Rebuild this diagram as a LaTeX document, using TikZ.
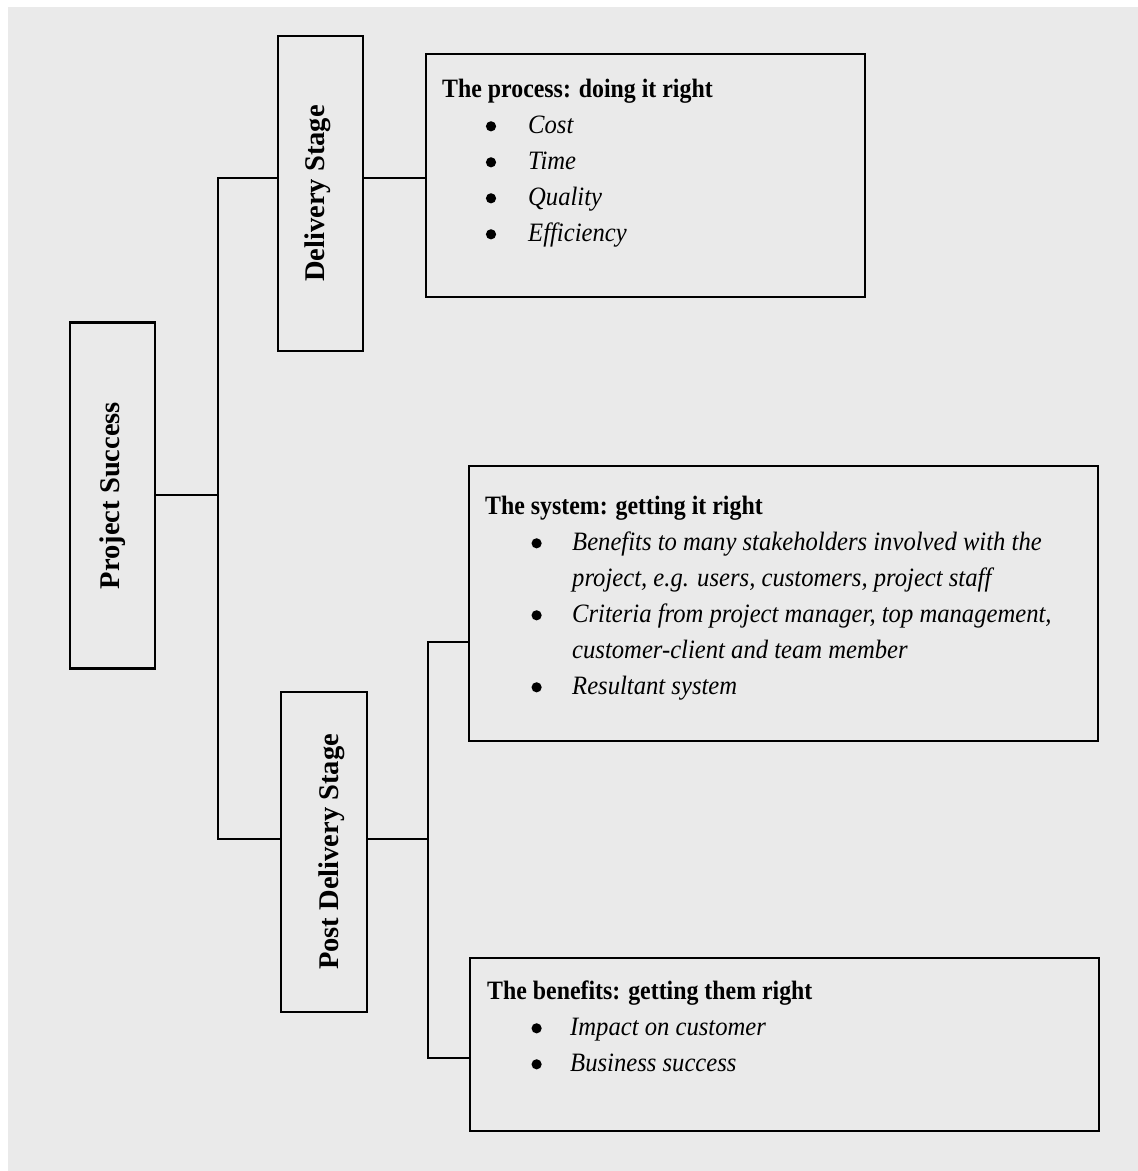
\documentclass[tikz,border=0pt]{standalone}
\usepackage{fontspec}
\usepackage{array}
\setmainfont{Liberation Serif}[BoldFeatures={FakeStretch=0.9},ItalicFeatures={FakeStretch=0.93}]
\newfontfamily\labelfont{Liberation Serif}
\definecolor{paper}{HTML}{EAEAEA}
\begin{document}
\begin{tikzpicture}[x=1pt,y=-1pt,
  box/.style={draw=black,line width=2.8pt,rectangle,inner sep=0pt},
  vlabel/.style={rotate=90,inner sep=0pt,font=\labelfont\bfseries\fontsize{28.5}{30}\selectfont},
  textblock/.style={anchor=base west,inner sep=0pt,font=\fontsize{26.5}{36}\selectfont},
  link/.style={draw=black,line width=2.7pt},
  dot/.style={fill=black}]
% page and paper
\useasboundingbox (0,0) rectangle (1138,1171);
\fill[white] (0,0) rectangle (1138,1171);
\fill[paper] (8,7) rectangle (1138,1171);

% stage boxes
\node[box,minimum width=85pt,minimum height=346pt] (ps) at (112.5,495.5) {};
\node[box,minimum width=85pt,minimum height=315pt] (ds) at (320.5,193.5) {};
\node[box,minimum width=86pt,minimum height=320pt] (pds) at (324,852) {};
\node[vlabel] (psl) at (ps.center) {Project Success};
\node[vlabel,yshift=3pt] (dsl) at (ds.center) {Delivery Stage};
\node[vlabel,yshift=-8pt] (pdsl) at (pds.center) {Post Delivery Stage};

% content boxes
\node[box,minimum width=439pt,minimum height=243pt] (proc) at (645.5,175.5) {};
\node[box,minimum width=629pt,minimum height=275pt] (sys) at (783.5,603.5) {};
\node[box,minimum width=629pt,minimum height=173pt] (ben) at (784.5,1044.5) {};

% box texts; the first column leaves room for the bullets drawn below
\node[textblock] (proct) at (442,97) {\begin{tabular}[t]{@{}p{86pt}@{}l@{}}
\multicolumn{2}{@{}l@{}}{\bfseries The process: doing it right}\\
 & \itshape Cost\\
 & \itshape Time\\
 & \itshape Quality\\
 & \itshape Efficiency
\end{tabular}};

\node[textblock] (syst) at (485,514) {\begin{tabular}[t]{@{}p{87pt}@{}l@{}}
\multicolumn{2}{@{}l@{}}{\bfseries The system: getting it right}\\
 & \itshape Benefits to many stakeholders involved with the\\
 & \itshape project, e.g. users, customers, project staff\\
 & \itshape Criteria from project manager, top management,\\
 & \itshape customer-client and team member\\
 & \itshape Resultant system
\end{tabular}};

\node[textblock] (bent) at (487,999) {\begin{tabular}[t]{@{}p{83pt}@{}l@{}}
\multicolumn{2}{@{}l@{}}{\bfseries The benefits: getting them right}\\
 & \itshape Impact on customer\\
 & \itshape Business success
\end{tabular}};

% bullets (rows are 36pt apart, dot centred 6.7pt above the baseline)
\foreach \r in {1,2,3,4}
  \fill[dot] ([shift={(49,36*\r-6.7)}]proct.base west) circle (5.1);
\foreach \r in {1,3,5}
  \fill[dot] ([shift={(51.6,36*\r-6.7)}]syst.base west) circle (5.1);
\foreach \r in {1,2}
  \fill[dot] ([shift={(49.6,36*\r-6.7)}]bent.base west) circle (5.1);

% junction points of the tree
\coordinate (trunkTop) at (218,178);
\coordinate (trunkMid) at (218,495);
\coordinate (trunkBot) at (218,839);
\coordinate (forkTop) at (428,642);
\coordinate (forkMid) at (428,839);
\coordinate (forkBot) at (428,1058);

% connectors
\draw[link] (ps.east |- trunkMid) -- (trunkMid);
\draw[link] (ds.west |- trunkTop) -- (trunkTop) -- (trunkBot) -- (pds.west |- trunkBot);
\draw[link] (ds.east |- trunkTop) -- (proc.west |- trunkTop);
\draw[link] (pds.east |- forkMid) -- (forkMid);
\draw[link] (sys.west |- forkTop) -- (forkTop) -- (forkBot) -- (ben.west |- forkBot);
\end{tikzpicture}
\end{document}
